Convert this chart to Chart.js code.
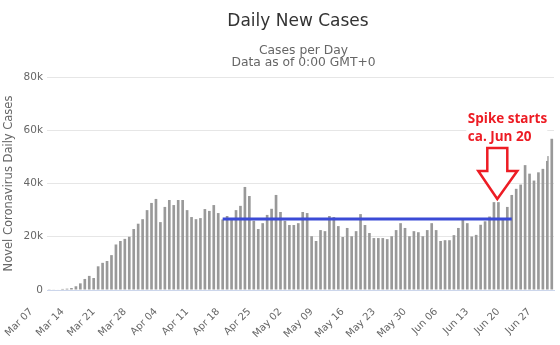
<!DOCTYPE html>
<html>
<head>
<meta charset="utf-8">
<title>Daily New Cases</title>
<script src="https://cdn.jsdelivr.net/npm/chart.js@4.4.0/dist/chart.umd.min.js"></script>
<style>
    html, body { margin: 0; padding: 0; background: #fff; }
</style>
</head>
<body>
<canvas id="myChart" width="560" height="345"></canvas>
<script>
// Daily counts, one per day from Mar 11 to Jul 2
const firstDay = 'Mar 11';
const cases = [
    // Mar 11 - Mar 31
    100, 150, 200, 400, 500, 750, 1400, 2500, 4150, 5300, 4500, 8900, 10200, 10900,
    13100, 17100, 18400, 19200, 20000, 22900, 24900,
    // Apr
    26600, 30000, 32700, 34200, 25500, 31200, 33800, 31900, 33800, 33800,
    30000, 27400, 26600, 27000, 30400, 29700, 31900, 28900, 26500, 27800,
    26400, 30000, 31600, 38700, 35300, 26000, 22900, 25100, 28200, 30500,
    // May
    35700, 29300, 26000, 24400, 24400, 25100, 29300, 28900, 20200, 18400,
    22500, 22100, 27800, 27400, 24000, 19900, 23300, 20200, 22100, 28500,
    24400, 21400, 19500, 19500, 19500, 19100, 20200, 22500, 25100, 23300, 20200,
    // Jun
    22100, 21700, 20200, 22500, 25100, 22500, 18400, 18700, 18700, 20600,
    23300, 26500, 25100, 20100, 20700, 24500, 25800, 27600, 33000, 33000,
    26400, 31200, 35700, 38000, 39600, 46900, 43700, 41100, 44200, 45500,
    // Jul
    50300, 56800
];
const tickLabels = ['Mar 07', 'Mar 14', 'Mar 21', 'Mar 28', 'Apr 04', 'Apr 11', 'Apr 18', 'Apr 25',
    'May 02', 'May 09', 'May 16', 'May 23', 'May 30', 'Jun 06', 'Jun 13', 'Jun 20', 'Jun 27'];
const yTicks = [0, 20000, 40000, 60000, 80000];

// plateau line drawn over the bars
const plateauDays = ['Apr 19', 'Jun 23'];
const plateauValue = 26700;

// arrow + note
const spikeDay = 'Jun 20';
const spikeTipValue = 34200;
const spikeNote = ['Spike starts', 'ca. Jun 20'];

const titleText = 'Daily New Cases';
const subtitleLines = ['Cases per Day', 'Data as of 0:00 GMT+0'];
const yTitle = 'Novel Coronavirus Daily Cases';

const months = ['Jan', 'Feb', 'Mar', 'Apr', 'May', 'Jun', 'Jul'];
const dayZero = new Date(2020, 2, 7);

// day number counted from Mar 07
function dayNum(label) {
    const parts = label.split(' ');
    const d = new Date(2020, months.indexOf(parts[0]), parseInt(parts[1], 10));
    return Math.round((d - dayZero) / 86400000);
}
function fmtDay(n) {
    const d = new Date(2020, 2, 7 + Math.round(n));
    return months[d.getMonth()] + ' ' + String(d.getDate()).padStart(2, '0');
}

// categories
const days = [];
for (let i = 0; i < cases.length; i++) {
    days.push(fmtDay(dayNum(firstDay) + i));
}

const header = {
    id: 'header',
    afterDraw(chart) {
        const { ctx, chartArea } = chart;
        const mid = (chartArea.left + chartArea.right) / 2;
        ctx.save();
        ctx.textAlign = 'center';
        ctx.textBaseline = 'alphabetic';
        ctx.fillStyle = '#333333';
        ctx.font = '17px "DejaVu Sans"';
        ctx.fillText(titleText, mid - 2.5, 26);
        ctx.fillStyle = '#666666';
        ctx.font = '12.3px "DejaVu Sans"';
        ctx.fillText(subtitleLines[0], mid + 3, 54);
        ctx.fillText(subtitleLines[1], mid + 3, 65.5);
        ctx.restore();
    }
};

const spikeMarker = {
    id: 'spikeMarker',
    afterDatasetsDraw(chart) {
        const { ctx, scales: { x, y } } = chart;
        const tx = x.getPixelForValue(dayNum(spikeDay) - 0.25);
        const ty = y.getPixelForValue(spikeTipValue);
        ctx.save();
        // note box
        ctx.fillStyle = '#ffffff';
        ctx.fillRect(tx - 31, ty - 92, 81, 54);
        ctx.fillStyle = '#ed1c24';
        ctx.font = 'bold 13.5px "Open Sans"';
        ctx.textAlign = 'left';
        ctx.textBaseline = 'alphabetic';
        ctx.fillText(spikeNote[0], tx - 29.5, ty - 76);
        ctx.fillText(spikeNote[1], tx - 29.5, ty - 58);
        // hollow arrow
        ctx.beginPath();
        ctx.moveTo(tx, ty);
        ctx.lineTo(tx + 20, ty - 28);
        ctx.lineTo(tx + 10, ty - 28);
        ctx.lineTo(tx + 10, ty - 51);
        ctx.lineTo(tx - 10, ty - 51);
        ctx.lineTo(tx - 10, ty - 28);
        ctx.lineTo(tx - 19, ty - 28);
        ctx.closePath();
        ctx.fillStyle = '#ffffff';
        ctx.fill();
        ctx.strokeStyle = '#ed1c24';
        ctx.lineWidth = 2.5;
        ctx.lineJoin = 'miter';
        ctx.stroke();
        ctx.restore();
    }
};

const ctx = document.querySelector('#myChart').getContext('2d');
const myChart = new Chart(ctx, {
    type: 'bar',
    data: {
        datasets: [
            {
                type: 'line',
                data: plateauDays.map(d => ({ x: dayNum(d), y: plateauValue })),
                borderColor: '#3b4ad6',
                borderWidth: 3,
                pointRadius: 0,
                order: 0
            },
            {
                type: 'bar',
                data: days.map((d, i) => ({ x: dayNum(d), y: cases[i] })),
                backgroundColor: '#999999',
                borderWidth: 0,
                barPercentage: 0.6,
                categoryPercentage: 1,
                order: 1
            }
        ]
    },
    options: {
        responsive: false,
        animation: false,
        layout: { padding: { top: 77, right: 6, bottom: 0, left: 0 } },
        plugins: {
            legend: { display: false },
            tooltip: { enabled: false }
        },
        scales: {
            x: {
                type: 'linear',
                offset: false,
                min: dayNum(days[0]) - 0.5,
                max: dayNum(days[days.length - 1]) + 0.5,
                grid: { display: false },
                border: { display: true, color: '#ccd6eb', width: 1 },
                afterBuildTicks(scale) {
                    scale.ticks = tickLabels.map(t => ({ value: dayNum(t) }));
                },
                afterFit(scale) {
                    scale.height = 55;
                    scale.paddingLeft = 0;
                    scale.paddingRight = 0;
                },
                ticks: {
                    autoSkip: false,
                    minRotation: 45,
                    maxRotation: 45,
                    padding: 8,
                    color: '#666666',
                    font: { family: 'DejaVu Sans', size: 10 },
                    callback: value => fmtDay(value)
                }
            },
            y: {
                min: yTicks[0],
                max: yTicks[yTicks.length - 1],
                afterBuildTicks(scale) {
                    scale.ticks = yTicks.map(v => ({ value: v }));
                },
                afterFit(scale) {
                    scale.width = 47;
                },
                grid: { color: '#e6e6e6', drawTicks: false },
                border: { display: false },
                ticks: {
                    padding: 4,
                    color: '#666666',
                    font: { family: 'DejaVu Sans', size: 10.5 },
                    callback: v => v === 0 ? '0' : (v / 1000) + 'k'
                },
                title: {
                    display: true,
                    text: yTitle,
                    color: '#666666',
                    font: { family: 'DejaVu Sans', size: 11.5, weight: 'normal' },
                    padding: { top: 2, bottom: 0 }
                }
            }
        }
    },
    plugins: [header, spikeMarker]
});
</script>
</body>
</html>
